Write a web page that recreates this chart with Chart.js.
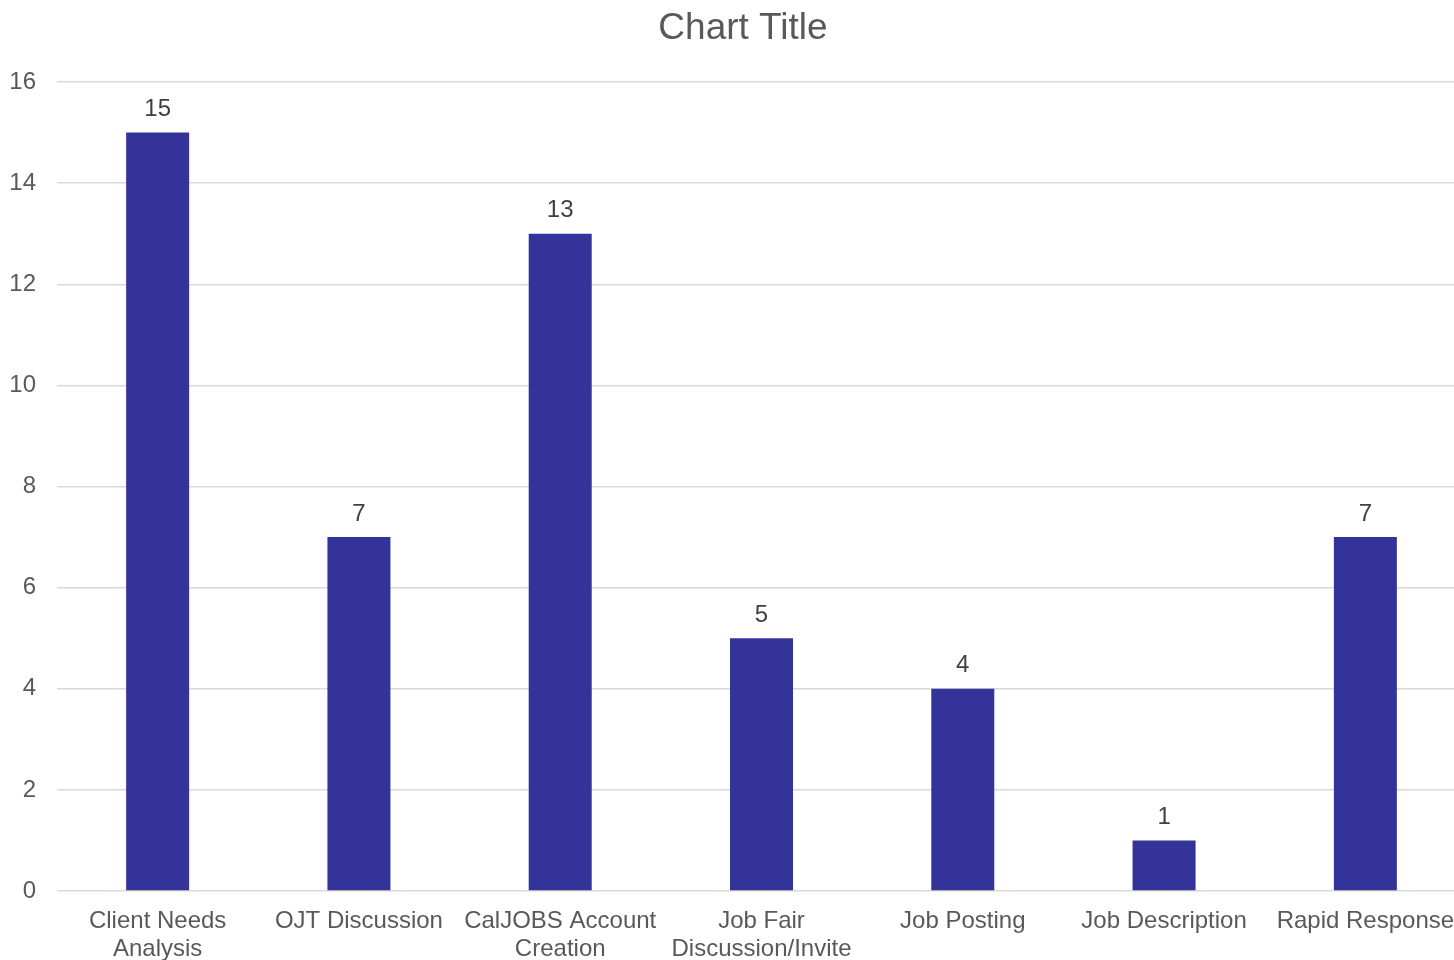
<!DOCTYPE html>
<html>
<head>
<meta charset="utf-8">
<script src="https://cdn.jsdelivr.net/npm/chart.js@4"></script>
<style>
  html, body { margin: 0; padding: 0; background: #fff; }
  #wrap { width: 1454px; height: 960px; overflow: hidden; }
</style>
</head>
<body>
<div id="wrap"><canvas id="chart" width="1466" height="960"></canvas></div>
<script>
const categories = [
  ['Client Needs', 'Analysis'],
  'OJT Discussion',
  ['CalJOBS Account', 'Creation'],
  ['Job Fair', 'Discussion/Invite'],
  'Job Posting',
  'Job Description',
  'Rapid Response'
];
const counts = [15, 7, 13, 5, 4, 1, 7];
const yTicks = [0, 2, 4, 6, 8, 10, 12, 14, 16];
const chartTitle = 'Chart Title';

const FONT = "'Liberation Sans', Arial, sans-serif";

// title, centred on the visible part as in the original
const titlePlugin = {
  id: 'titleText',
  afterDraw(chart) {
    const ctx = chart.ctx;
    ctx.save();
    ctx.font = '37px ' + FONT;
    ctx.fillStyle = '#595959';
    ctx.textAlign = 'center';
    ctx.textBaseline = 'middle';
    ctx.fillText(chartTitle, 743, 29);
    ctx.restore();
  }
};

// value labels above each bar
const barLabels = {
  id: 'barLabels',
  afterDatasetsDraw(chart) {
    const ctx = chart.ctx;
    const meta = chart.getDatasetMeta(0);
    ctx.save();
    ctx.font = '24px ' + FONT;
    ctx.fillStyle = '#404040';
    ctx.textAlign = 'center';
    ctx.textBaseline = 'middle';
    meta.data.forEach((bar, i) => {
      ctx.fillText(String(counts[i]), bar.x, bar.y - 23);
    });
    ctx.restore();
  }
};

new Chart(document.getElementById('chart').getContext('2d'), {
  type: 'bar',
  data: {
    labels: categories,
    datasets: [{
      data: counts,
      backgroundColor: '#333399',
      borderWidth: 0,
      categoryPercentage: 1,
      barPercentage: 0.313
    }]
  },
  options: {
    responsive: false,
    animation: false,
    layout: { padding: { left: 0, right: 0, top: 82, bottom: 0 } },
    plugins: {
      legend: { display: false },
      tooltip: { enabled: false },
      title: { display: false }
    },
    scales: {
      x: {
        grid: { display: false },
        border: { display: false },
        ticks: {
          color: '#595959',
          font: { family: FONT, size: 24, lineHeight: 1.17 },
          padding: 8,
          maxRotation: 0,
          autoSkip: false
        },
        afterFit(scale) { scale.height = 69; }
      },
      y: {
        min: 0,
        max: 16,
        afterBuildTicks(scale) { scale.ticks = yTicks.map(v => ({ value: v })); },
        grid: { color: '#d9d9d9', lineWidth: 1.5, drawTicks: false },
        border: { display: false },
        ticks: {
          color: '#595959',
          font: { family: FONT, size: 24 },
          padding: 21
        },
        afterFit(scale) { scale.width = 57; }
      }
    }
  },
  plugins: [barLabels, titlePlugin]
});
</script>
</body>
</html>
